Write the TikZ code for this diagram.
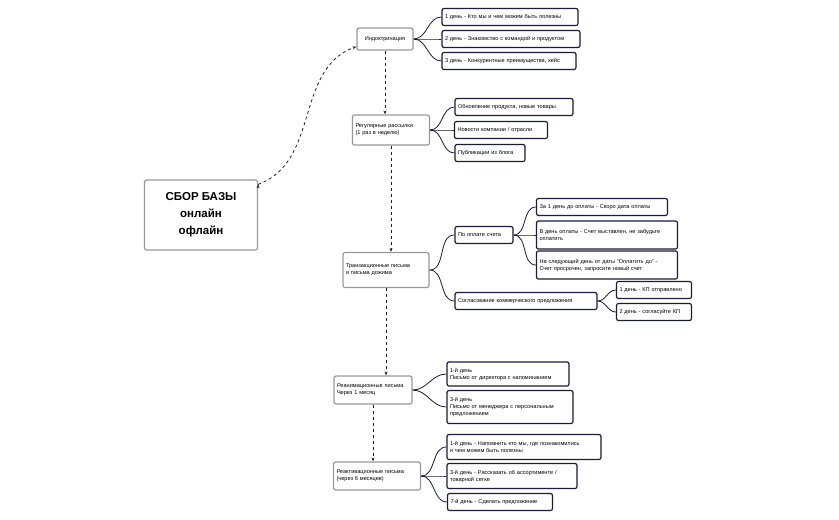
\documentclass[tikz,border=0pt]{standalone}
\usepackage{fontspec}
\setmainfont{Liberation Sans}
\usetikzlibrary{arrows.meta}
\definecolor{navy}{HTML}{1B1B3A}
\tikzset{
  mainbox/.style={draw=gray!80, line width=1.2pt, rounded corners=2pt, fill=white, align=left, font=\fontsize{5.6}{7}\selectfont, inner sep=3pt},
  leaf/.style={draw=navy, line width=1.2pt, rounded corners=2pt, fill=white, align=left, font=\fontsize{5.6}{7}\selectfont, inner sep=3pt},
  link/.style={draw=navy, line width=0.8pt},
  flow/.style={draw=navy, line width=0.8pt, dashed, -{Stealth[length=4pt]}}
}
\begin{document}
\begin{tikzpicture}[x=1pt,y=-1pt]
\useasboundingbox (0,0) rectangle (839,520);

\node[mainbox, minimum width=113pt, minimum height=70pt, align=center, font=\fontsize{11.5}{17}\selectfont\bfseries] (root) at (201,215) {СБОР БАЗЫ\\онлайн\\офлайн};

\node[mainbox, minimum width=56pt, minimum height=22pt, align=center] (ind) at (385,39) {Индоктринация};
\node[mainbox, minimum width=77pt, minimum height=30pt, text width=71pt] (reg) at (391,130) {Регулярные рассылки\\(1 раз в неделю)};
\node[mainbox, minimum width=86pt, minimum height=35pt, text width=80pt] (tr) at (386,270) {Транзакционные письма\\и письма дожима};
\node[mainbox, minimum width=78pt, minimum height=28pt, text width=72pt] (rean) at (373,390) {Реанимационные письма\\Через 1 месяц};
\node[mainbox, minimum width=87pt, minimum height=28pt, text width=81pt] (reac) at (377,476) {Реактивационные письма\\(через 6 месяцев)};

% индоктринация
\node[leaf, minimum width=136pt, minimum height=17pt, text width=130pt] (a1) at (510,17) {1 день - Кто мы и чем можем быть полезны};
\node[leaf, minimum width=138pt, minimum height=17pt, text width=132pt] (a2) at (511,39) {2 день - Знакомство с командой и продуктом};
\node[leaf, minimum width=134pt, minimum height=17pt, text width=128pt] (a3) at (509,61) {3 день - Конкурентные преимущества, кейс};

% регулярные
\node[leaf, minimum width=118pt, minimum height=17pt, text width=112pt] (b1) at (514,107) {Обновление продукта, новые товары};
\node[leaf, minimum width=93pt, minimum height=17pt, text width=87pt] (b2) at (501,130) {Новости компании / отрасли};
\node[leaf, minimum width=70pt, minimum height=17pt, text width=64pt] (b3) at (490,153) {Публикации из блога};

% транзакционные
\node[leaf, minimum width=58pt, minimum height=17pt, text width=52pt] (c1) at (484,235) {По оплате счета};
\node[leaf, minimum width=142pt, minimum height=17pt, text width=136pt] (c2) at (526,301) {Согласование коммерческого предложения};
\node[leaf, minimum width=131pt, minimum height=17pt, text width=125pt] (c11) at (602,207) {За 1 день до оплаты - Скоро дата оплаты};
\node[leaf, minimum width=141pt, minimum height=28pt, text width=135pt] (c12) at (607,235) {В день оплаты - Счет выставлен, не забудьте\\оплатить};
\node[leaf, minimum width=141pt, minimum height=28pt, text width=135pt] (c13) at (607,265) {На следующий день от даты "Оплатить до" -\\Счет просрочен, запросите новый счет};
\node[leaf, minimum width=75pt, minimum height=17pt, text width=69pt] (c21) at (654,290) {1 день - КП отправлено};
\node[leaf, minimum width=75pt, minimum height=17pt, text width=69pt] (c22) at (654,312) {2 день - согласуйте КП};

% реанимационные
\node[leaf, minimum width=122pt, minimum height=24pt, text width=116pt] (d1) at (508,374) {1-й день\\Письмо от директора с напоминанием};
\node[leaf, minimum width=126pt, minimum height=33pt, text width=120pt] (d2) at (510,407) {3-й день\\Письмо от менеджера с персональным\\предложением};

% реактивационные
\node[leaf, minimum width=154pt, minimum height=25pt, text width=148pt] (e1) at (524,447) {1-й день - Напомнить кто мы, где познакомились\\и чем можем быть полезны};
\node[leaf, minimum width=130pt, minimum height=25pt, text width=124pt] (e2) at (512,476) {3-й день - Рассказать об ассортименте /\\товарной сетке};
\node[leaf, minimum width=105pt, minimum height=17pt, text width=99pt] (e3) at (500,502) {7-й день - Сделать предложение};

% ветви
\foreach \p/\c in {ind/a1,ind/a2,ind/a3,reg/b1,reg/b2,reg/b3,tr/c1,tr/c2,c1/c11,c1/c12,c1/c13,c2/c21,c2/c22,rean/d1,rean/d2,reac/e1,reac/e2,reac/e3}
  \draw[link] (\p.east) to[out=0,in=180] (\c.west);

% последовательность
\draw[flow] (root.north east) ++(0,5) coordinate (r1);
\draw[flow] (r1) to[out=20,in=200] ([yshift=4pt]ind.south west);
\draw[flow] (ind.south) -- (ind.south |- reg.north);
\draw[flow] (reg.south) -- (reg.south |- tr.north);
\draw[flow] (tr.south) -- (tr.south |- rean.north);
\draw[flow] (rean.south) -- (rean.south |- reac.north);
\end{tikzpicture}
\end{document}
